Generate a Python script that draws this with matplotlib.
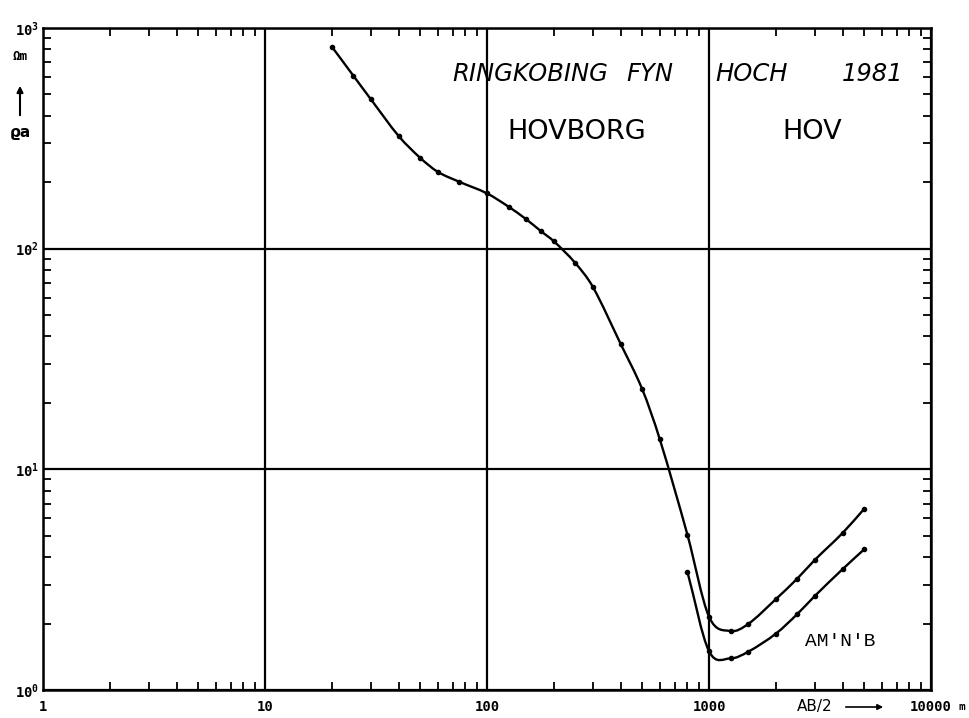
import numpy as np
import matplotlib
matplotlib.use('Agg')
import matplotlib.pyplot as plt
from matplotlib.path import Path
from matplotlib.patches import PathPatch
from matplotlib.ticker import LogLocator, NullFormatter, FixedLocator

# Schlumberger sounding, AB/2 in m, apparent resistivity in Ohm m
ab_upper = [20, 25, 30, 40, 50, 60, 75, 100, 125, 150, 175, 200, 250, 300,
            400, 500, 600, 800, 1000, 1250, 1500, 2000, 2500, 3000, 4000, 5000]
rho_upper = [823, 608, 475, 324, 258, 223, 201, 178, 155, 136, 120, 108, 86,
             67, 37, 23.1, 13.7, 5.04, 2.15, 1.85, 1.99, 2.58, 3.20, 3.89,
             5.15, 6.62]
ab_lower = [800, 1000, 1250, 1500, 2000, 2500, 3000, 4000, 5000]
rho_lower = [3.42, 1.50, 1.39, 1.49, 1.80, 2.21, 2.67, 3.53, 4.34]

x_ticks = [1, 10, 100, 1000, 10000]
x_labels = ['1', '10', '100', '1000', '10000']
y_ticks = [1, 10, 100, 1000]
y_labels = [r'$\mathbf{10^{0}}$', r'$\mathbf{10^{1}}$',
            r'$\mathbf{10^{2}}$', r'$\mathbf{10^{3}}$']

W, H = 969, 718
plt.rcParams['mathtext.fontset'] = 'custom'
plt.rcParams['mathtext.rm'] = 'DejaVu Sans Mono'
plt.rcParams['mathtext.bf'] = 'DejaVu Sans Mono:bold'


def smooth_path(xs, ys):
    # hermite curve through the points in log-log space, drawn as bezier segments
    lx = np.log10(xs)
    ly = np.log10(ys)
    n = len(lx)
    m = np.zeros(n)
    m[0] = (ly[1] - ly[0]) / (lx[1] - lx[0])
    m[-1] = (ly[-1] - ly[-2]) / (lx[-1] - lx[-2])
    for i in range(1, n - 1):
        m[i] = (ly[i + 1] - ly[i - 1]) / (lx[i + 1] - lx[i - 1])
    verts = [(lx[0], ly[0])]
    codes = [Path.MOVETO]
    for i in range(n - 1):
        h = lx[i + 1] - lx[i]
        verts += [(lx[i] + h / 3, ly[i] + m[i] * h / 3),
                  (lx[i + 1] - h / 3, ly[i + 1] - m[i + 1] * h / 3),
                  (lx[i + 1], ly[i + 1])]
        codes += [Path.CURVE4] * 3
    return Path(10 ** np.array(verts), codes)


fig = plt.figure(figsize=(W / 100, H / 100), dpi=100)
ax = fig.add_axes([43 / W, 28 / H, 888 / W, 662 / H])
ax.set_xscale('log')
ax.set_yscale('log')
ax.set_xlim(1, 10000)
ax.set_ylim(1, 1000)

ax.xaxis.set_major_locator(FixedLocator(x_ticks))
ax.yaxis.set_major_locator(FixedLocator(y_ticks))
ax.set_xticklabels(x_labels)
ax.set_yticklabels(y_labels)
for axis in (ax.xaxis, ax.yaxis):
    axis.set_minor_locator(LogLocator(base=10, subs=np.arange(2, 10), numticks=20))
    axis.set_minor_formatter(NullFormatter())

ax.tick_params(which='major', length=0)
ax.tick_params(axis='x', which='major', pad=7)
ax.tick_params(axis='y', which='major', pad=3)
ax.tick_params(which='minor', direction='in', length=6, width=1.3,
               top=True, right=True, bottom=True, left=True)
for lab in ax.get_xticklabels():
    lab.set_fontfamily('DejaVu Sans Mono')
    lab.set_fontweight('bold')
    lab.set_fontsize(10)
for lab in ax.get_yticklabels():
    lab.set_fontsize(10)

ax.grid(which='major', color='black', lw=1.6)
for sp in ax.spines.values():
    sp.set_linewidth(1.8)

for xs, ys in ((ab_upper, rho_upper), (ab_lower, rho_lower)):
    ax.add_patch(PathPatch(smooth_path(xs, ys), fill=False, lw=1.7,
                           edgecolor='black', zorder=3))
    ax.plot(xs, ys, ls='none', marker='o', ms=3, color='black', zorder=4)

# titles
ttl = dict(fontsize=17.5, style='italic', va='center', color='black')
fig.text(452 / W, 1 - 74 / H, 'RINGKOBING', ha='left', **ttl)
fig.text(626 / W, 1 - 74 / H, 'FYN', ha='left', **ttl)
fig.text(715 / W, 1 - 74 / H, 'HOCH', ha='left', **ttl)
fig.text(903 / W, 1 - 74 / H, '1981', ha='right', **ttl)
fig.text(577 / W, 1 - 132 / H, 'HOVBORG', ha='center', va='center', fontsize=19.5)
fig.text(812 / W, 1 - 132 / H, 'HOV', ha='center', va='center', fontsize=19.5)
fig.text(840 / W, 1 - 642 / H, "AM'N'B", ha='center', va='center',
         fontsize=14, family='Liberation Mono')

# axis annotations
fig.text(20 / W, 1 - 57 / H, 'Ωm', ha='center', va='center', fontsize=9,
         family='DejaVu Sans Mono', fontweight='bold')
ax.annotate('', xy=(20, H - 83), xytext=(20, H - 118), xycoords='figure pixels',
            textcoords='figure pixels',
            arrowprops=dict(arrowstyle='-|>', lw=1.5, color='black', mutation_scale=9))
fig.text(20 / W, 1 - 132 / H, 'ϱa', ha='center', va='center', fontsize=11,
         fontweight='bold')
fig.text(797 / W, 1 - 707 / H, 'AB/2', ha='left', va='center', fontsize=11)
ax.annotate('', xy=(886, H - 707), xytext=(843, H - 707), xycoords='figure pixels',
            textcoords='figure pixels',
            arrowprops=dict(arrowstyle='-|>', lw=1.2, color='black', mutation_scale=8))
fig.text(962 / W, 1 - 707 / H, 'm', ha='center', va='center', fontsize=8,
         family='DejaVu Sans Mono', fontweight='bold')

fig.savefig('out.png', dpi=100)
